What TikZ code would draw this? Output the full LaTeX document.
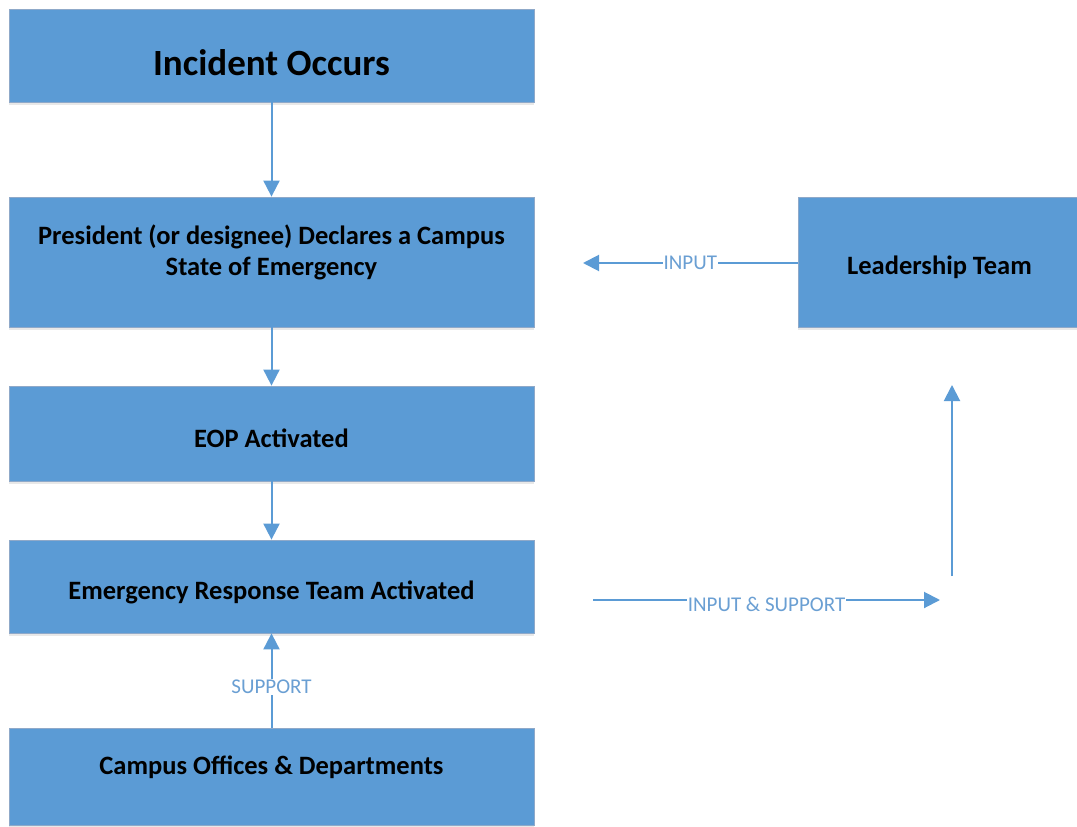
\documentclass[tikz,border=0pt]{standalone}
\usepackage{fontspec}
\setmainfont{Carlito}
\usetikzlibrary{arrows.meta,shadows}
\definecolor{boxblue}{HTML}{5B9BD5}
\definecolor{boxedge}{HTML}{8FA9C9}
\definecolor{lblblue}{HTML}{6A9FD3}
\tikzset{
  x=1pt,y=-1pt,
  box/.style={draw=boxedge,line width=0.8pt,fill=boxblue,inner sep=0pt,
    drop shadow={shadow xshift=0pt,shadow yshift=-3pt,opacity=0.18}},
  boxtext/.style={inner sep=0pt,text=black,align=center,font=\bfseries\fontsize{26.5}{31}\selectfont},
  conn/.style={draw=boxblue,line width=2pt,-{Triangle[width=16pt,length=16pt]}},
  lbl/.style={fill=white,inner sep=1pt,text=lblblue,font=\fontsize{21}{24}\selectfont}
}
\begin{document}
\begin{tikzpicture}
\useasboundingbox (0,0) rectangle (1077,827);
\node[box,minimum width=525pt,minimum height=93pt] (inc) at (271.5,55.5) {};
\node[box,minimum width=525pt,minimum height=130pt] (pres) at (271.5,262) {};
\node[box,minimum width=525pt,minimum height=95pt] (eop) at (271.5,433.5) {};
\node[box,minimum width=525pt,minimum height=93pt] (ert) at (271.5,586.5) {};
\node[box,minimum width=525pt,minimum height=97pt] (cam) at (271.5,776.5) {};
\node[box,minimum width=283pt,minimum height=130pt] (lead) at (939.5,262) {};
\node[boxtext,font=\bfseries\fontsize{37}{44}\selectfont] (incT) at (271.5,63) {Incident Occurs};
\node[boxtext] (presT) at (271.5,252.5) {President (or designee) Declares a Campus\\State of Emergency};
\node[boxtext] (eopT) at (271.5,438) {EOP Activated};
\node[boxtext] (ertT) at (271.5,592) {Emergency Response Team Activated};
\node[boxtext] (camT) at (271.5,767) {Campus Offices \& Departments};
\node[boxtext] (leadT) at (939.5,267) {Leadership Team};
\coordinate (inTip) at (583,263);
\coordinate (isStart) at (593,600);
\coordinate (isTip) at (940,600);
\coordinate (upStart) at (952,576);
\coordinate (upTip) at (952,385);
\draw[conn] (inc.south) -- (pres.north);
\draw[conn] (pres.south) -- (eop.north);
\draw[conn] (eop.south) -- (ert.north);
\draw[conn] (cam.north) -- node[lbl,pos=0.43]{SUPPORT} (ert.south);
\draw[conn] (lead.west |- inTip) -- node[lbl,pos=0.5]{INPUT} (inTip);
\draw[conn] (isStart) -- node[lbl,pos=0.5,yshift=-4pt]{INPUT \& SUPPORT} (isTip);
\draw[conn] (upStart) -- (upTip);
\end{tikzpicture}
\end{document}
